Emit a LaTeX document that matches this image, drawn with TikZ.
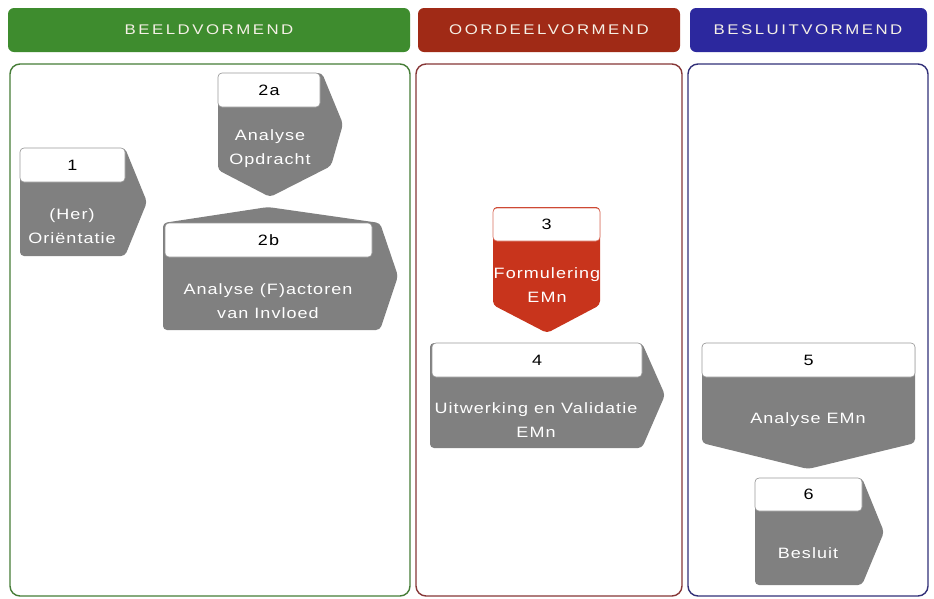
\documentclass[tikz,border=0pt]{standalone}
\usepackage{fontspec}
\setmainfont{Liberation Sans}
\newfontfamily\bodyfont[FakeStretch=1.2,LetterSpace=7]{Liberation Sans}
\newfontfamily\headfont[FakeStretch=1.2,LetterSpace=18]{Liberation Sans}
\definecolor{hgreen}{RGB}{62,140,46}
\definecolor{hred}{RGB}{160,42,22}
\definecolor{hblue}{RGB}{44,40,158}
\definecolor{pgreen}{RGB}{70,125,55}
\definecolor{pred}{RGB}{135,55,55}
\definecolor{pblue}{RGB}{50,48,120}
\definecolor{stepgray}{RGB}{128,128,128}
\definecolor{stepred}{RGB}{200,52,28}
\definecolor{headink}{RGB}{245,240,230}
\begin{document}
\begin{tikzpicture}[x=1pt,y=-1pt,
  header/.style={rounded corners=6pt,inner sep=0pt},
  headtext/.style={text=headink,font=\headfont\fontsize{14}{16}\selectfont},
  panel/.style={line width=1.4pt,rounded corners=10pt},
  body/.style={fill=stepgray,rounded corners=4pt},
  tabbox/.style={draw=stepgray!80,line width=0.6pt,fill=white,rounded corners=4pt,
    inner sep=0pt,font=\bodyfont\fontsize{15}{17}\selectfont,text=black},
  label/.style={text=white,align=center,inner sep=0pt,
    font=\bodyfont\fontsize{15}{24}\selectfont}]
\useasboundingbox (0,0) rectangle (934,598);
\fill[white] (0,0) rectangle (934,598);

% column headers
\fill[hgreen,header] (8,8) rectangle (410,52);
\fill[hred,header] (418,8) rectangle (680,52);
\fill[hblue,header] (690,8) rectangle (927,52);
\node[headtext] (hb) at (209,30) {BEELDVORMEND};
\node[headtext] (ho) at (549,30) {OORDEELVORMEND};
\node[headtext] (hd) at (808,30) {BESLUITVORMEND};

% column panels
\draw[pgreen,panel] (10,64) rectangle (410,596);
\draw[pred,panel] (416,64) rectangle (682,596);
\draw[pblue,panel] (688,64) rectangle (928,596);

% step bodies
\fill[body] (20,148) -- (125,148) -- (147,202) -- (125,256) -- (20,256) -- cycle;
\fill[body] (218,73) -- (322,73) -- (343,124) -- (331,166) -- (270,197) -- (218,170) -- cycle;
\fill[body] (163,223) -- (268,207) -- (380,223) -- (398,276) -- (380,330) -- (163,330) -- cycle;
\fill[body,fill=stepred] (493,207) -- (600,207) -- (600,305) -- (547,333) -- (493,305) -- cycle;
\fill[body] (430,343) -- (642,343) -- (665,395) -- (642,448) -- (430,448) -- cycle;
\fill[body] (702,343) -- (915,343) -- (915,443) -- (808,469) -- (702,443) -- cycle;
\fill[body] (755,478) -- (862,478) -- (884,532) -- (862,585) -- (755,585) -- cycle;

% number tabs
\node[tabbox,minimum width=105pt,minimum height=34pt] (t1) at (72.5,165) {1};
\node[tabbox,minimum width=102pt,minimum height=34pt] (t2a) at (269,90) {2a};
\node[tabbox,minimum width=207pt,minimum height=34pt] (t2b) at (268.5,240) {2b};
\node[tabbox,draw=stepred!70,minimum width=107pt,minimum height=33pt] (t3) at (546.5,224.5) {3};
\node[tabbox,minimum width=210pt,minimum height=34pt] (t4) at (537,360) {4};
\node[tabbox,minimum width=213pt,minimum height=34pt] (t5) at (808.5,360) {5};
\node[tabbox,minimum width=107pt,minimum height=33pt] (t6) at (808.5,494.5) {6};

% step labels
\node[label] (l1) at (72,226) {(Her)\\Oriëntatie};
\node[label] (l2a) at (270,149) {Analyse\\Opdracht};
\node[label] (l2b) at (268,301) {Analyse (F)actoren\\van Invloed};
\node[label] (l3) at (547,285) {Formulering\\EMn};
\node[label] (l4) at (536,420) {Uitwerking en Validatie\\EMn};
\node[label] (l5) at (808,420) {Analyse EMn};
\node[label] (l6) at (808,553) {Besluit};
\end{tikzpicture}
\end{document}
